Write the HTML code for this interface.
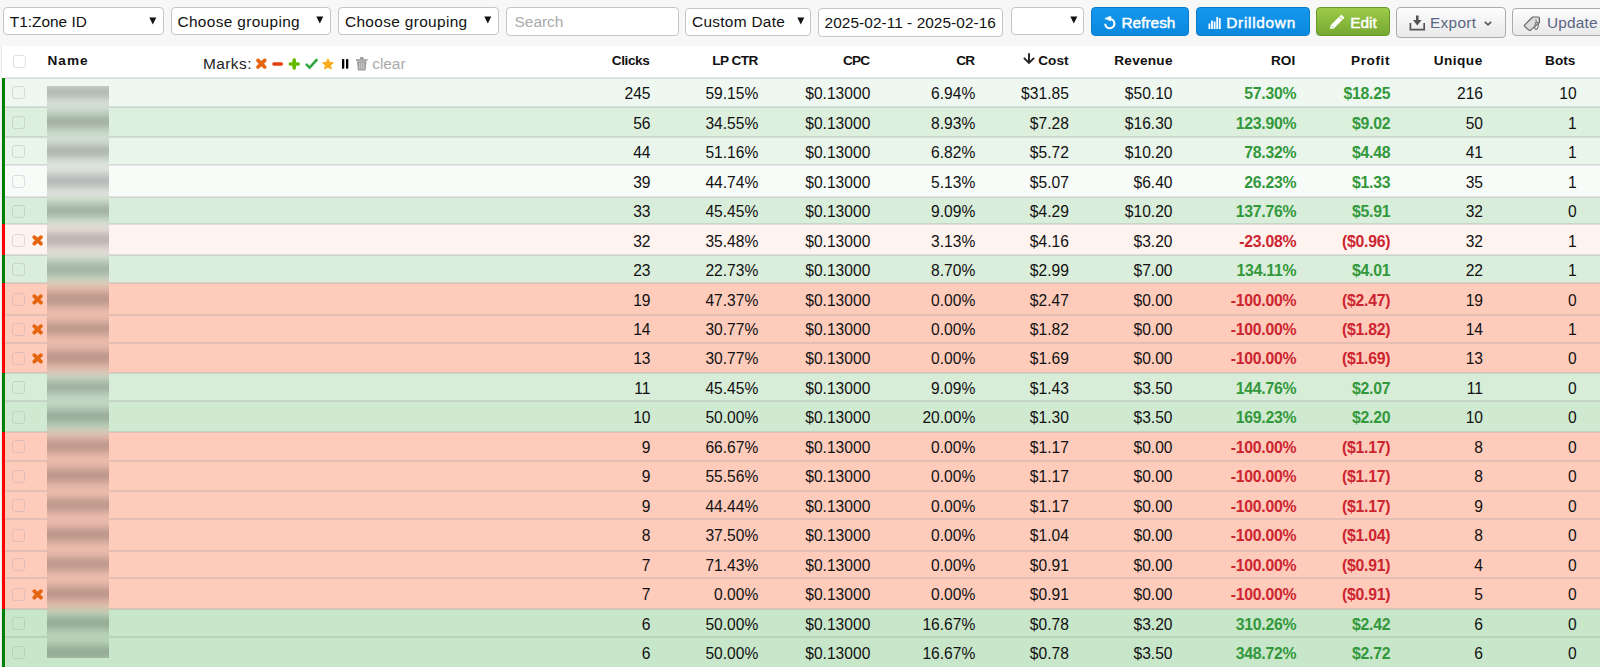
<!DOCTYPE html>
<html>
<head>
<meta charset="utf-8">
<title>Report</title>
<style>
html,body{margin:0;padding:0;}
body{width:1600px;height:667px;overflow:hidden;position:relative;background:#f7f7f7;font-family:"Liberation Sans",Arial,sans-serif;color:#111;}
.sel,.inp{position:absolute;box-sizing:border-box;background:#fff;border:1px solid #c6c6c6;border-radius:4px;font-size:15.4px;color:#111;line-height:26px;padding-top:1px;padding-left:6px;white-space:nowrap;}
.sel svg.dd{position:absolute;top:8.2px;}
.ph{color:#a9a9a9;}
.btn{position:absolute;box-sizing:border-box;border-radius:4px;font-size:15.4px;white-space:nowrap;line-height:28px;}
.blue{background:linear-gradient(#1597ee,#0b88de);border:1px solid #0b7dc6;color:#fff;-webkit-text-stroke:0.45px #fff;}
.green{background:linear-gradient(#9dcb48,#76a832);border:1px solid #689a2a;color:#fff;-webkit-text-stroke:0.45px #fff;}
.gray{background:linear-gradient(#fdfdfd,#e9e9e9);border:1px solid #a9abb3;color:#5a6684;}
.btn svg{position:absolute;}
.btn .t{position:absolute;}
#table{position:absolute;left:1px;top:46px;width:1599px;height:621px;background:#fff;border-left:1px solid #ececec;}
#thead{position:absolute;left:0;top:46px;width:1600px;height:32px;}
.h{position:absolute;top:53px;font-size:13.6px;font-weight:bold;color:#111;white-space:nowrap;line-height:16px;}
.sarrow{position:absolute;left:-15.2px;top:0px;}
.row{position:absolute;left:2px;width:1598px;}
.sep{position:absolute;left:5px;width:1595px;height:2px;background:rgba(150,150,160,0.26);}
.bar{position:absolute;left:0;top:0;bottom:0;width:3px;}
.gb{background:#008000;}
.rb{background:#ff0000;}
.cb{position:absolute;left:10px;top:50%;margin-top:-6.5px;width:13px;height:13px;box-sizing:border-box;border:1.2px solid rgba(165,165,175,0.36);border-radius:3px;}
.rx{position:absolute;left:29.5px;top:50%;margin-top:-5.5px;}
.c{position:absolute;height:18px;line-height:18px;font-size:15.6px;color:#111;white-space:nowrap;}
.c.g{color:#33983c;font-weight:bold;font-size:15.8px;letter-spacing:-0.25px;}
.c.r{color:#cc2530;font-weight:bold;font-size:15.8px;letter-spacing:-0.25px;}
#strip{position:absolute;left:47.2px;top:85.8px;width:61.8px;height:572px;overflow:hidden;}
#stripin{position:absolute;left:0;top:0;width:100%;height:100%;filter:blur(4px);}
</style>
</head>
<body>
<!-- toolbar -->
<div class="sel" style="left:3px;top:7.4px;width:160.5px;height:28px;padding-left:5.8px">T1:Zone ID<svg class="dd" style="left:145px" width="8" height="8" viewBox="0 0 8 8"><path d="M0.3 0.5 H7.3 L3.8 7.5 Z" fill="#111"/></svg></div>
<div class="sel" style="left:170.5px;top:7.2px;width:160.5px;height:28px"><span style="letter-spacing:0.35px">Choose grouping</span><svg class="dd" style="left:144.5px" width="8" height="8" viewBox="0 0 8 8"><path d="M0.3 0.5 H7.3 L3.8 7.5 Z" fill="#111"/></svg></div>
<div class="sel" style="left:338px;top:7.2px;width:160.5px;height:28px"><span style="letter-spacing:0.35px">Choose grouping</span><svg class="dd" style="left:144.5px" width="8" height="8" viewBox="0 0 8 8"><path d="M0.3 0.5 H7.3 L3.8 7.5 Z" fill="#111"/></svg></div>
<div class="inp" style="left:506px;top:7px;width:172.5px;height:28.5px;padding-left:7.6px"><span class="ph">Search</span></div>
<div class="sel" style="left:685px;top:7.5px;width:125.5px;height:28px;padding-top:0"><span style="letter-spacing:0.3px">Custom Date</span><svg class="dd" style="left:110.5px" width="8" height="8" viewBox="0 0 8 8"><path d="M0.3 0.5 H7.3 L3.8 7.5 Z" fill="#111"/></svg></div>
<div class="inp" style="left:818px;top:8px;width:184.5px;height:28.5px;padding-left:5.6px;letter-spacing:0.06px">2025-02-11 - 2025-02-16</div>
<div class="sel" style="left:1010.5px;top:7.2px;width:73px;height:28px"><svg class="dd" style="left:58px" width="8" height="8" viewBox="0 0 8 8"><path d="M0.3 0.5 H7.3 L3.8 7.5 Z" fill="#111"/></svg></div>

<div class="btn blue" style="left:1090.5px;top:6.8px;width:98.5px;height:29.2px">
<svg style="left:10.5px;top:7.4px" width="14" height="15" viewBox="0 0 14 15"><path d="M7.9 4.0 A4.6 4.6 0 1 1 3.2 8.7" stroke="#fff" stroke-width="2.1" fill="none"/><path d="M2.8 3.5 L8.8 1.0 L8.8 6.1 Z" fill="#fff" stroke="#fff" stroke-width="0.5" stroke-linejoin="round"/></svg>
<span class="t" style="left:30px;top:1.5px">Refresh</span></div>
<div class="btn blue" style="left:1196px;top:6.8px;width:113.5px;height:29.2px">
<svg style="left:10.5px;top:9px" width="14" height="13" viewBox="0 0 14 13"><rect x="0.5" y="6.5" width="1.8" height="5.5" fill="#fff"/><rect x="3.1" y="3.6" width="1.8" height="8.4" fill="#fff"/><rect x="5.7" y="4.5" width="1.8" height="7.5" fill="#fff"/><rect x="8.3" y="0" width="1.8" height="12" fill="#fff"/><rect x="10.9" y="1.2" width="1.8" height="10.8" fill="#fff"/></svg>
<span class="t" style="left:29.3px;top:1.5px;letter-spacing:0.7px">Drilldown</span></div>
<div class="btn green" style="left:1315.7px;top:6.9px;width:74px;height:29.1px">
<svg style="left:12.5px;top:6.5px" width="17" height="16" viewBox="0 0 17 16"><path d="M1 15 L1.6 11.2 L11.6 1.2 Q12.3 0.5 13 1.2 L14.8 3 Q15.5 3.7 14.8 4.4 L4.8 14.4 Z" fill="#fff"/><path d="M10.2 2.6 L13.4 5.8" stroke="#90c040" stroke-width="0.9"/><path d="M2.6 11.6 L4.4 13.4" stroke="#90c040" stroke-width="0.7"/></svg>
<span class="t" style="left:33.5px;top:1.5px">Edit</span></div>
<div class="btn gray" style="left:1396px;top:7.2px;width:109.5px;height:30.5px">
<svg style="left:12px;top:7px" width="17" height="16" viewBox="0 0 17 16"><path d="M1.4 8 V14.6 H15.2 V8" stroke="#555" stroke-width="1.7" fill="none"/><path d="M7 0.5 H9.6 V5 H12.6 L8.3 10.5 L4 5 H7 Z" fill="#555"/></svg>
<span class="t" style="left:33px;top:0.5px;letter-spacing:0.3px">Export</span>
<svg style="left:86.5px;top:12.5px" width="8" height="5" viewBox="0 0 8 5"><path d="M0.8 0.8 L4 3.8 L7.2 0.8" stroke="#555" stroke-width="1.6" fill="none"/></svg></div>
<div class="btn gray" style="left:1511.5px;top:7.5px;width:110px;height:28.2px">
<svg style="left:9.5px;top:6.5px" width="20" height="18" viewBox="0 0 20 18"><path d="M10.6 2 L16.5 2 Q17.4 2 17.4 2.9 L17.5 7.6 L8.7 14.9 Q7.6 15.7 6.6 14.9 L2.7 11.4 Q1.9 10.6 2.7 9.8 Z" fill="#dcdcdc" stroke="#666" stroke-width="1.2" stroke-linejoin="round"/><ellipse cx="14.6" cy="10.8" rx="1.7" ry="3.7" fill="none" stroke="#777" stroke-width="1.1" transform="rotate(12 14.6 10.8)"/><path d="M13.9 4 L14.2 7.5" stroke="#888" stroke-width="1"/></svg>
<span class="t" style="left:34.5px;top:0;letter-spacing:0.2px">Update</span></div>

<!-- table -->
<div id="table"></div>
<i class="cb" style="left:13px;top:55.3px;margin-top:0"></i>
<span class="h" style="left:47.5px;letter-spacing:1px">Name</span>
<span class="h" style="left:203px;top:55.5px;font-weight:normal;font-size:15.4px;color:#222;letter-spacing:0.45px">Marks:</span>
<svg style="position:absolute;left:255px;top:56px" width="155" height="16" viewBox="0 0 155 16">
<path d="M3.0 4.4 L9.7 11.0 M9.7 4.4 L3.0 11.0" stroke="#e5640e" stroke-width="3.7" stroke-linecap="round"/>
<path d="M19 8 H26.3" stroke="#e33d0e" stroke-width="3.6" stroke-linecap="round"/>
<path d="M39.2 4 V11.9 M35.3 8 H43.2" stroke="#66bb00" stroke-width="3.6" stroke-linecap="round"/>
<path d="M51.6 8.6 L54.6 11.6 L61.6 4" stroke="#36a845" stroke-width="2.6" fill="none" stroke-linecap="round"/>
<path d="M72.95 2.80 L74.57 6.28 L78.37 6.74 L75.57 9.35 L76.30 13.11 L72.95 11.25 L69.60 13.11 L70.33 9.35 L67.53 6.74 L71.33 6.28 Z" fill="#fbab1a" stroke="#fbab1a" stroke-width="0.9" stroke-linejoin="round"/>
<rect x="87" y="3" width="2.3" height="9.7" rx="0.8" fill="#000"/>
<rect x="91" y="3" width="2.3" height="9.7" rx="0.8" fill="#000"/>
<g fill="#999"><path d="M101 3.2 H112.5 V4.8 H101 Z"/><path d="M105 1.1 H108.5 V3.2 H105 Z"/><path d="M102 5.2 H111.5 L110.6 14.2 Q110.4 14.6 110 14.6 H103.5 Q103.1 14.6 102.9 14.2 Z"/></g>
<g stroke="#ddd" stroke-width="0.9"><path d="M104.8 6.5 V13.3 M106.8 6.5 V13.3 M108.8 6.5 V13.3"/></g>
</svg>
<span class="h" style="left:372.2px;top:55.5px;font-weight:normal;font-size:15.4px;color:#aaa">clear</span>
<span class="h" style="right:950.6px;letter-spacing:-0.4px">Clicks</span><span class="h" style="right:842.4px;letter-spacing:-0.6px">LP CTR</span><span class="h" style="right:730.5px;letter-spacing:-0.7px">CPC</span><span class="h" style="right:626.0px;letter-spacing:-1.0px">CR</span><span class="h" style="right:531.5px;letter-spacing:0px"><svg class="sarrow" width="12" height="12" viewBox="0 0 12 12"><path d="M6 0.3 V10 M0.9 4.9 L6 10 L11.1 4.9" stroke="#222" stroke-width="1.9" fill="none" stroke-linejoin="miter"/></svg>Cost</span><span class="h" style="right:427.3px;letter-spacing:0.25px">Revenue</span><span class="h" style="right:304.8px;letter-spacing:0px">ROI</span><span class="h" style="right:209.9px;letter-spacing:0.6px">Profit</span><span class="h" style="right:117.3px;letter-spacing:0.5px">Unique</span><span class="h" style="right:24.7px;letter-spacing:0px">Bots</span>

<div class="row" style="top:78.2px;height:29.4px;background:#eff8f0"><i class="bar gb"></i><i class="cb"></i></div>
<div class="sep" style="top:77.2px"></div>
<div class="row" style="top:106.6px;height:31.8px;background:#ddf0de"><i class="bar gb"></i><i class="cb"></i></div>
<div class="sep" style="top:105.6px"></div>
<div class="row" style="top:137.4px;height:28.6px;background:#e9f5ea"><i class="bar gb"></i><i class="cb"></i></div>
<div class="sep" style="top:136.4px"></div>
<div class="row" style="top:165px;height:32.8px;background:#f8fcf8"><i class="bar gb"></i><i class="cb"></i></div>
<div class="sep" style="top:164.0px"></div>
<div class="row" style="top:196.8px;height:28.5px;background:#d9eeda"><i class="bar gb"></i><i class="cb"></i></div>
<div class="sep" style="top:195.8px"></div>
<div class="row" style="top:224.3px;height:32.0px;background:#fff3f0"><i class="bar rb"></i><i class="cb"></i><svg class="rx" width="12" height="11" viewBox="0 0 12 11"><path d="M2.3 2.1 L8.9 8.6 M8.9 2.1 L2.3 8.6" stroke="#e5650f" stroke-width="3.7" stroke-linecap="round"/></svg></div>
<div class="sep" style="top:223.3px"></div>
<div class="row" style="top:255.3px;height:28.7px;background:#daeedb"><i class="bar gb"></i><i class="cb"></i></div>
<div class="sep" style="top:254.3px"></div>
<div class="row" style="top:283px;height:32.8px;background:#ffccbc"><i class="bar rb"></i><i class="cb"></i><svg class="rx" width="12" height="11" viewBox="0 0 12 11"><path d="M2.3 2.1 L8.9 8.6 M8.9 2.1 L2.3 8.6" stroke="#e5650f" stroke-width="3.7" stroke-linecap="round"/></svg></div>
<div class="sep" style="top:282.0px"></div>
<div class="row" style="top:314.8px;height:28.7px;background:#ffccbc"><i class="bar rb"></i><i class="cb"></i><svg class="rx" width="12" height="11" viewBox="0 0 12 11"><path d="M2.3 2.1 L8.9 8.6 M8.9 2.1 L2.3 8.6" stroke="#e5650f" stroke-width="3.7" stroke-linecap="round"/></svg></div>
<div class="sep" style="top:313.8px"></div>
<div class="row" style="top:342.5px;height:31.5px;background:#ffccbc"><i class="bar rb"></i><i class="cb"></i><svg class="rx" width="12" height="11" viewBox="0 0 12 11"><path d="M2.3 2.1 L8.9 8.6 M8.9 2.1 L2.3 8.6" stroke="#e5650f" stroke-width="3.7" stroke-linecap="round"/></svg></div>
<div class="sep" style="top:341.5px"></div>
<div class="row" style="top:373px;height:28.9px;background:#d7edd8"><i class="bar gb"></i><i class="cb"></i></div>
<div class="sep" style="top:372.0px"></div>
<div class="row" style="top:400.9px;height:32.5px;background:#d0ead1"><i class="bar gb"></i><i class="cb"></i></div>
<div class="sep" style="top:399.9px"></div>
<div class="row" style="top:432.4px;height:29.2px;background:#ffccbc"><i class="bar rb"></i><i class="cb"></i></div>
<div class="sep" style="top:431.4px"></div>
<div class="row" style="top:460.6px;height:31.6px;background:#ffccbc"><i class="bar rb"></i><i class="cb"></i></div>
<div class="sep" style="top:459.6px"></div>
<div class="row" style="top:491.2px;height:28.8px;background:#ffccbc"><i class="bar rb"></i><i class="cb"></i></div>
<div class="sep" style="top:490.2px"></div>
<div class="row" style="top:519px;height:32.7px;background:#ffccbc"><i class="bar rb"></i><i class="cb"></i></div>
<div class="sep" style="top:518.0px"></div>
<div class="row" style="top:550.7px;height:28.3px;background:#ffccbc"><i class="bar rb"></i><i class="cb"></i></div>
<div class="sep" style="top:549.7px"></div>
<div class="row" style="top:578px;height:32.2px;background:#ffccbc"><i class="bar rb"></i><i class="cb"></i><svg class="rx" width="12" height="11" viewBox="0 0 12 11"><path d="M2.3 2.1 L8.9 8.6 M8.9 2.1 L2.3 8.6" stroke="#e5650f" stroke-width="3.7" stroke-linecap="round"/></svg></div>
<div class="sep" style="top:577.0px"></div>
<div class="row" style="top:609.2px;height:28.6px;background:#c8e6c9"><i class="bar gb"></i><i class="cb"></i></div>
<div class="sep" style="top:608.2px"></div>
<div class="row" style="top:636.8px;height:32.4px;background:#c8e6c9"><i class="bar gb"></i><i class="cb"></i></div>
<div class="sep" style="top:635.8px"></div>
<span class="c" style="right:949.5px;top:85.15px">245</span><span class="c" style="right:841.7px;top:85.15px">59.15%</span><span class="c" style="right:729.7px;top:85.15px">$0.13000</span><span class="c" style="right:624.7px;top:85.15px">6.94%</span><span class="c" style="right:531.2px;top:85.15px">$31.85</span><span class="c" style="right:427.5px;top:85.15px">$50.10</span><span class="c g" style="right:303.7px;top:85.15px">57.30%</span><span class="c g" style="right:209.7px;top:85.15px">$18.25</span><span class="c" style="right:117.0px;top:85.15px">216</span><span class="c" style="right:23.3px;top:85.15px">10</span>
<span class="c" style="right:949.5px;top:114.63px">56</span><span class="c" style="right:841.7px;top:114.63px">34.55%</span><span class="c" style="right:729.7px;top:114.63px">$0.13000</span><span class="c" style="right:624.7px;top:114.63px">8.93%</span><span class="c" style="right:531.2px;top:114.63px">$7.28</span><span class="c" style="right:427.5px;top:114.63px">$16.30</span><span class="c g" style="right:303.7px;top:114.63px">123.90%</span><span class="c g" style="right:209.7px;top:114.63px">$9.02</span><span class="c" style="right:117.0px;top:114.63px">50</span><span class="c" style="right:23.3px;top:114.63px">1</span>
<span class="c" style="right:949.5px;top:144.11px">44</span><span class="c" style="right:841.7px;top:144.11px">51.16%</span><span class="c" style="right:729.7px;top:144.11px">$0.13000</span><span class="c" style="right:624.7px;top:144.11px">6.82%</span><span class="c" style="right:531.2px;top:144.11px">$5.72</span><span class="c" style="right:427.5px;top:144.11px">$10.20</span><span class="c g" style="right:303.7px;top:144.11px">78.32%</span><span class="c g" style="right:209.7px;top:144.11px">$4.48</span><span class="c" style="right:117.0px;top:144.11px">41</span><span class="c" style="right:23.3px;top:144.11px">1</span>
<span class="c" style="right:949.5px;top:173.59px">39</span><span class="c" style="right:841.7px;top:173.59px">44.74%</span><span class="c" style="right:729.7px;top:173.59px">$0.13000</span><span class="c" style="right:624.7px;top:173.59px">5.13%</span><span class="c" style="right:531.2px;top:173.59px">$5.07</span><span class="c" style="right:427.5px;top:173.59px">$6.40</span><span class="c g" style="right:303.7px;top:173.59px">26.23%</span><span class="c g" style="right:209.7px;top:173.59px">$1.33</span><span class="c" style="right:117.0px;top:173.59px">35</span><span class="c" style="right:23.3px;top:173.59px">1</span>
<span class="c" style="right:949.5px;top:203.07px">33</span><span class="c" style="right:841.7px;top:203.07px">45.45%</span><span class="c" style="right:729.7px;top:203.07px">$0.13000</span><span class="c" style="right:624.7px;top:203.07px">9.09%</span><span class="c" style="right:531.2px;top:203.07px">$4.29</span><span class="c" style="right:427.5px;top:203.07px">$10.20</span><span class="c g" style="right:303.7px;top:203.07px">137.76%</span><span class="c g" style="right:209.7px;top:203.07px">$5.91</span><span class="c" style="right:117.0px;top:203.07px">32</span><span class="c" style="right:23.3px;top:203.07px">0</span>
<span class="c" style="right:949.5px;top:232.55px">32</span><span class="c" style="right:841.7px;top:232.55px">35.48%</span><span class="c" style="right:729.7px;top:232.55px">$0.13000</span><span class="c" style="right:624.7px;top:232.55px">3.13%</span><span class="c" style="right:531.2px;top:232.55px">$4.16</span><span class="c" style="right:427.5px;top:232.55px">$3.20</span><span class="c r" style="right:303.7px;top:232.55px">-23.08%</span><span class="c r" style="right:209.7px;top:232.55px">($0.96)</span><span class="c" style="right:117.0px;top:232.55px">32</span><span class="c" style="right:23.3px;top:232.55px">1</span>
<span class="c" style="right:949.5px;top:262.03px">23</span><span class="c" style="right:841.7px;top:262.03px">22.73%</span><span class="c" style="right:729.7px;top:262.03px">$0.13000</span><span class="c" style="right:624.7px;top:262.03px">8.70%</span><span class="c" style="right:531.2px;top:262.03px">$2.99</span><span class="c" style="right:427.5px;top:262.03px">$7.00</span><span class="c g" style="right:303.7px;top:262.03px">134.11%</span><span class="c g" style="right:209.7px;top:262.03px">$4.01</span><span class="c" style="right:117.0px;top:262.03px">22</span><span class="c" style="right:23.3px;top:262.03px">1</span>
<span class="c" style="right:949.5px;top:291.51px">19</span><span class="c" style="right:841.7px;top:291.51px">47.37%</span><span class="c" style="right:729.7px;top:291.51px">$0.13000</span><span class="c" style="right:624.7px;top:291.51px">0.00%</span><span class="c" style="right:531.2px;top:291.51px">$2.47</span><span class="c" style="right:427.5px;top:291.51px">$0.00</span><span class="c r" style="right:303.7px;top:291.51px">-100.00%</span><span class="c r" style="right:209.7px;top:291.51px">($2.47)</span><span class="c" style="right:117.0px;top:291.51px">19</span><span class="c" style="right:23.3px;top:291.51px">0</span>
<span class="c" style="right:949.5px;top:320.99px">14</span><span class="c" style="right:841.7px;top:320.99px">30.77%</span><span class="c" style="right:729.7px;top:320.99px">$0.13000</span><span class="c" style="right:624.7px;top:320.99px">0.00%</span><span class="c" style="right:531.2px;top:320.99px">$1.82</span><span class="c" style="right:427.5px;top:320.99px">$0.00</span><span class="c r" style="right:303.7px;top:320.99px">-100.00%</span><span class="c r" style="right:209.7px;top:320.99px">($1.82)</span><span class="c" style="right:117.0px;top:320.99px">14</span><span class="c" style="right:23.3px;top:320.99px">1</span>
<span class="c" style="right:949.5px;top:350.47px">13</span><span class="c" style="right:841.7px;top:350.47px">30.77%</span><span class="c" style="right:729.7px;top:350.47px">$0.13000</span><span class="c" style="right:624.7px;top:350.47px">0.00%</span><span class="c" style="right:531.2px;top:350.47px">$1.69</span><span class="c" style="right:427.5px;top:350.47px">$0.00</span><span class="c r" style="right:303.7px;top:350.47px">-100.00%</span><span class="c r" style="right:209.7px;top:350.47px">($1.69)</span><span class="c" style="right:117.0px;top:350.47px">13</span><span class="c" style="right:23.3px;top:350.47px">0</span>
<span class="c" style="right:949.5px;top:379.95px">11</span><span class="c" style="right:841.7px;top:379.95px">45.45%</span><span class="c" style="right:729.7px;top:379.95px">$0.13000</span><span class="c" style="right:624.7px;top:379.95px">9.09%</span><span class="c" style="right:531.2px;top:379.95px">$1.43</span><span class="c" style="right:427.5px;top:379.95px">$3.50</span><span class="c g" style="right:303.7px;top:379.95px">144.76%</span><span class="c g" style="right:209.7px;top:379.95px">$2.07</span><span class="c" style="right:117.0px;top:379.95px">11</span><span class="c" style="right:23.3px;top:379.95px">0</span>
<span class="c" style="right:949.5px;top:409.43px">10</span><span class="c" style="right:841.7px;top:409.43px">50.00%</span><span class="c" style="right:729.7px;top:409.43px">$0.13000</span><span class="c" style="right:624.7px;top:409.43px">20.00%</span><span class="c" style="right:531.2px;top:409.43px">$1.30</span><span class="c" style="right:427.5px;top:409.43px">$3.50</span><span class="c g" style="right:303.7px;top:409.43px">169.23%</span><span class="c g" style="right:209.7px;top:409.43px">$2.20</span><span class="c" style="right:117.0px;top:409.43px">10</span><span class="c" style="right:23.3px;top:409.43px">0</span>
<span class="c" style="right:949.5px;top:438.91px">9</span><span class="c" style="right:841.7px;top:438.91px">66.67%</span><span class="c" style="right:729.7px;top:438.91px">$0.13000</span><span class="c" style="right:624.7px;top:438.91px">0.00%</span><span class="c" style="right:531.2px;top:438.91px">$1.17</span><span class="c" style="right:427.5px;top:438.91px">$0.00</span><span class="c r" style="right:303.7px;top:438.91px">-100.00%</span><span class="c r" style="right:209.7px;top:438.91px">($1.17)</span><span class="c" style="right:117.0px;top:438.91px">8</span><span class="c" style="right:23.3px;top:438.91px">0</span>
<span class="c" style="right:949.5px;top:468.39px">9</span><span class="c" style="right:841.7px;top:468.39px">55.56%</span><span class="c" style="right:729.7px;top:468.39px">$0.13000</span><span class="c" style="right:624.7px;top:468.39px">0.00%</span><span class="c" style="right:531.2px;top:468.39px">$1.17</span><span class="c" style="right:427.5px;top:468.39px">$0.00</span><span class="c r" style="right:303.7px;top:468.39px">-100.00%</span><span class="c r" style="right:209.7px;top:468.39px">($1.17)</span><span class="c" style="right:117.0px;top:468.39px">8</span><span class="c" style="right:23.3px;top:468.39px">0</span>
<span class="c" style="right:949.5px;top:497.87px">9</span><span class="c" style="right:841.7px;top:497.87px">44.44%</span><span class="c" style="right:729.7px;top:497.87px">$0.13000</span><span class="c" style="right:624.7px;top:497.87px">0.00%</span><span class="c" style="right:531.2px;top:497.87px">$1.17</span><span class="c" style="right:427.5px;top:497.87px">$0.00</span><span class="c r" style="right:303.7px;top:497.87px">-100.00%</span><span class="c r" style="right:209.7px;top:497.87px">($1.17)</span><span class="c" style="right:117.0px;top:497.87px">9</span><span class="c" style="right:23.3px;top:497.87px">0</span>
<span class="c" style="right:949.5px;top:527.35px">8</span><span class="c" style="right:841.7px;top:527.35px">37.50%</span><span class="c" style="right:729.7px;top:527.35px">$0.13000</span><span class="c" style="right:624.7px;top:527.35px">0.00%</span><span class="c" style="right:531.2px;top:527.35px">$1.04</span><span class="c" style="right:427.5px;top:527.35px">$0.00</span><span class="c r" style="right:303.7px;top:527.35px">-100.00%</span><span class="c r" style="right:209.7px;top:527.35px">($1.04)</span><span class="c" style="right:117.0px;top:527.35px">8</span><span class="c" style="right:23.3px;top:527.35px">0</span>
<span class="c" style="right:949.5px;top:556.83px">7</span><span class="c" style="right:841.7px;top:556.83px">71.43%</span><span class="c" style="right:729.7px;top:556.83px">$0.13000</span><span class="c" style="right:624.7px;top:556.83px">0.00%</span><span class="c" style="right:531.2px;top:556.83px">$0.91</span><span class="c" style="right:427.5px;top:556.83px">$0.00</span><span class="c r" style="right:303.7px;top:556.83px">-100.00%</span><span class="c r" style="right:209.7px;top:556.83px">($0.91)</span><span class="c" style="right:117.0px;top:556.83px">4</span><span class="c" style="right:23.3px;top:556.83px">0</span>
<span class="c" style="right:949.5px;top:586.31px">7</span><span class="c" style="right:841.7px;top:586.31px">0.00%</span><span class="c" style="right:729.7px;top:586.31px">$0.13000</span><span class="c" style="right:624.7px;top:586.31px">0.00%</span><span class="c" style="right:531.2px;top:586.31px">$0.91</span><span class="c" style="right:427.5px;top:586.31px">$0.00</span><span class="c r" style="right:303.7px;top:586.31px">-100.00%</span><span class="c r" style="right:209.7px;top:586.31px">($0.91)</span><span class="c" style="right:117.0px;top:586.31px">5</span><span class="c" style="right:23.3px;top:586.31px">0</span>
<span class="c" style="right:949.5px;top:615.79px">6</span><span class="c" style="right:841.7px;top:615.79px">50.00%</span><span class="c" style="right:729.7px;top:615.79px">$0.13000</span><span class="c" style="right:624.7px;top:615.79px">16.67%</span><span class="c" style="right:531.2px;top:615.79px">$0.78</span><span class="c" style="right:427.5px;top:615.79px">$3.20</span><span class="c g" style="right:303.7px;top:615.79px">310.26%</span><span class="c g" style="right:209.7px;top:615.79px">$2.42</span><span class="c" style="right:117.0px;top:615.79px">6</span><span class="c" style="right:23.3px;top:615.79px">0</span>
<span class="c" style="right:949.5px;top:645.27px">6</span><span class="c" style="right:841.7px;top:645.27px">50.00%</span><span class="c" style="right:729.7px;top:645.27px">$0.13000</span><span class="c" style="right:624.7px;top:645.27px">16.67%</span><span class="c" style="right:531.2px;top:645.27px">$0.78</span><span class="c" style="right:427.5px;top:645.27px">$3.50</span><span class="c g" style="right:303.7px;top:645.27px">348.72%</span><span class="c g" style="right:209.7px;top:645.27px">$2.72</span><span class="c" style="right:117.0px;top:645.27px">6</span><span class="c" style="right:23.3px;top:645.27px">0</span>
<div id="strip"><div id="stripin">
<div style="position:absolute;left:-10px;right:-10px;top:-20px;height:12.2px;background:#a7ada8"></div>
<div style="position:absolute;left:-10px;right:-10px;top:-7.8px;height:28.4px;background:linear-gradient(#dce4dc 0%, #dce4dc 18%, #a7ada8 44%, #a7ada8 56%, #dce4dc 82%, #dce4dc 100%)"></div>
<div style="position:absolute;left:-10px;right:-10px;top:20.6px;height:30.8px;background:linear-gradient(#cbdccc 0%, #cbdccc 18%, #9ba89b 44%, #9ba89b 56%, #cbdccc 82%, #cbdccc 100%)"></div>
<div style="position:absolute;left:-10px;right:-10px;top:51.4px;height:27.6px;background:linear-gradient(#d7e2d7 0%, #d7e2d7 18%, #a3aca4 44%, #a3aca4 56%, #d7e2d7 82%, #d7e2d7 100%)"></div>
<div style="position:absolute;left:-10px;right:-10px;top:79.0px;height:31.8px;background:linear-gradient(#e4e8e4 0%, #e4e8e4 18%, #adb0ae 44%, #adb0ae 56%, #e4e8e4 82%, #e4e8e4 100%)"></div>
<div style="position:absolute;left:-10px;right:-10px;top:110.8px;height:27.5px;background:linear-gradient(#c8dbc8 0%, #c8dbc8 18%, #98a698 44%, #98a698 56%, #c8dbc8 82%, #c8dbc8 100%)"></div>
<div style="position:absolute;left:-10px;right:-10px;top:138.3px;height:31.0px;background:linear-gradient(#ebe0dc 0%, #ebe0dc 18%, #b2aaa8 44%, #b2aaa8 56%, #ebe0dc 82%, #ebe0dc 100%)"></div>
<div style="position:absolute;left:-10px;right:-10px;top:169.3px;height:27.7px;background:linear-gradient(#c9dbc9 0%, #c9dbc9 18%, #99a799 44%, #99a799 56%, #c9dbc9 82%, #c9dbc9 100%)"></div>
<div style="position:absolute;left:-10px;right:-10px;top:197.0px;height:31.8px;background:linear-gradient(#ebbcad 0%, #ebbcad 18%, #b28f84 44%, #b28f84 56%, #ebbcad 82%, #ebbcad 100%)"></div>
<div style="position:absolute;left:-10px;right:-10px;top:228.8px;height:27.7px;background:linear-gradient(#ebbcad 0%, #ebbcad 18%, #b28f84 44%, #b28f84 56%, #ebbcad 82%, #ebbcad 100%)"></div>
<div style="position:absolute;left:-10px;right:-10px;top:256.5px;height:30.5px;background:linear-gradient(#ebbcad 0%, #ebbcad 18%, #b28f84 44%, #b28f84 56%, #ebbcad 82%, #ebbcad 100%)"></div>
<div style="position:absolute;left:-10px;right:-10px;top:287.0px;height:27.9px;background:linear-gradient(#c6dac7 0%, #c6dac7 18%, #97a697 44%, #97a697 56%, #c6dac7 82%, #c6dac7 100%)"></div>
<div style="position:absolute;left:-10px;right:-10px;top:314.9px;height:31.5px;background:linear-gradient(#c0d7c1 0%, #c0d7c1 18%, #92a493 44%, #92a493 56%, #c0d7c1 82%, #c0d7c1 100%)"></div>
<div style="position:absolute;left:-10px;right:-10px;top:346.4px;height:28.2px;background:linear-gradient(#ebbcad 0%, #ebbcad 18%, #b28f84 44%, #b28f84 56%, #ebbcad 82%, #ebbcad 100%)"></div>
<div style="position:absolute;left:-10px;right:-10px;top:374.6px;height:30.6px;background:linear-gradient(#ebbcad 0%, #ebbcad 18%, #b28f84 44%, #b28f84 56%, #ebbcad 82%, #ebbcad 100%)"></div>
<div style="position:absolute;left:-10px;right:-10px;top:405.2px;height:27.8px;background:linear-gradient(#ebbcad 0%, #ebbcad 18%, #b28f84 44%, #b28f84 56%, #ebbcad 82%, #ebbcad 100%)"></div>
<div style="position:absolute;left:-10px;right:-10px;top:433.0px;height:31.7px;background:linear-gradient(#ebbcad 0%, #ebbcad 18%, #b28f84 44%, #b28f84 56%, #ebbcad 82%, #ebbcad 100%)"></div>
<div style="position:absolute;left:-10px;right:-10px;top:464.7px;height:27.3px;background:linear-gradient(#ebbcad 0%, #ebbcad 18%, #b28f84 44%, #b28f84 56%, #ebbcad 82%, #ebbcad 100%)"></div>
<div style="position:absolute;left:-10px;right:-10px;top:492.0px;height:31.2px;background:linear-gradient(#ebbcad 0%, #ebbcad 18%, #b28f84 44%, #b28f84 56%, #ebbcad 82%, #ebbcad 100%)"></div>
<div style="position:absolute;left:-10px;right:-10px;top:523.2px;height:27.6px;background:linear-gradient(#b8d4b9 0%, #b8d4b9 18%, #8ca18d 44%, #8ca18d 56%, #b8d4b9 82%, #b8d4b9 100%)"></div>
<div style="position:absolute;left:-10px;right:-10px;top:550.8px;height:31.4px;background:linear-gradient(#b8d4b9 0%, #b8d4b9 18%, #8ca18d 44%, #8ca18d 56%, #b8d4b9 82%, #b8d4b9 100%)"></div>
</div></div>
</body>
</html>
